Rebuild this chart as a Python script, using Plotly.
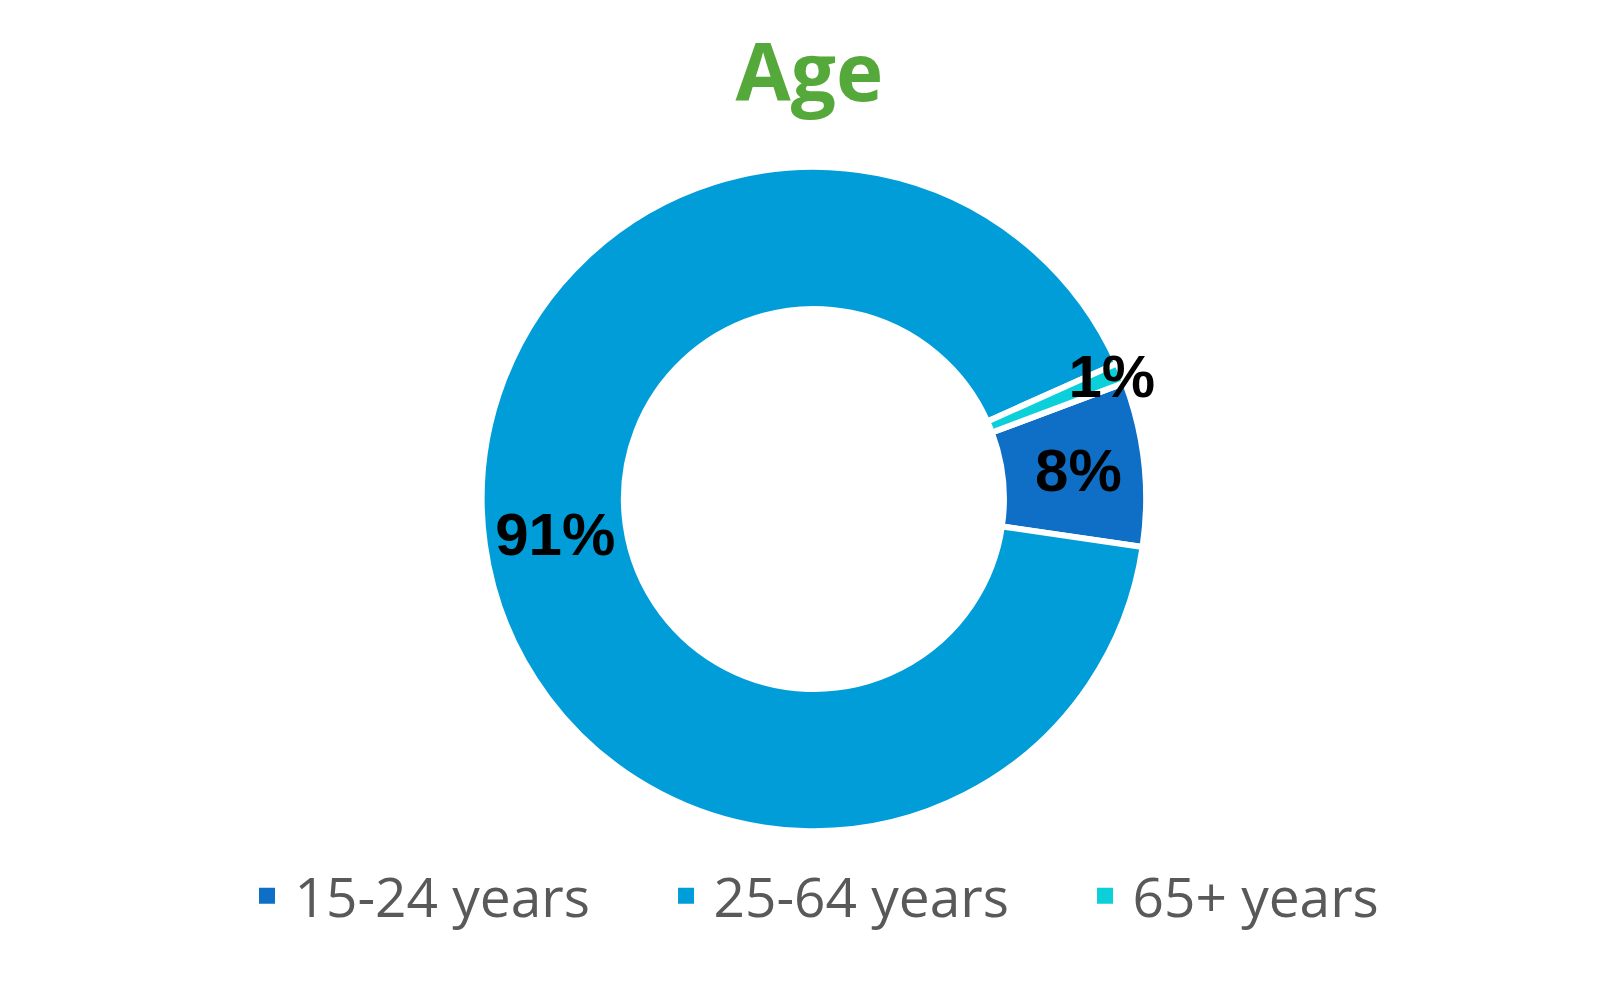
import plotly.graph_objects as go

age_groups = ["15-24 years", "25-64 years", "65+ years"]
shares = [8, 91, 1]
slice_colors = ["#0F6FC6", "#009DD9", "#0BD0D9"]

fig = go.Figure()

fig.add_trace(
    go.Pie(
        labels=age_groups,
        values=shares,
        hole=0.572,
        sort=False,
        direction="clockwise",
        rotation=69.5,
        marker=dict(colors=slice_colors, line=dict(color="white", width=6)),
        texttemplate="%{percent:.0%}",
        textposition="inside",
        insidetextorientation="horizontal",
        textfont=dict(family="Liberation Sans", size=60, color="black", weight="bold"),
        hoverinfo="label+percent",
        showlegend=False,
        domain=dict(x=[0.2948, 0.7088], y=[0.176, 0.841]),
    )
)

# legend entries with bigger square keys than the pie default
for name, color in zip(age_groups, slice_colors):
    fig.add_trace(
        go.Scatter(
            x=[None], y=[None],
            mode="markers",
            name=name,
            marker=dict(symbol="square", size=20, color=color),
            hoverinfo="skip",
        )
    )

fig.update_xaxes(visible=False)
fig.update_yaxes(visible=False)

fig.update_layout(
    width=1606,
    height=999,
    margin=dict(l=0, r=0, t=0, b=0),
    paper_bgcolor="white",
    plot_bgcolor="white",
    title=dict(
        text="<b>Age</b>",
        x=0.499, xanchor="center",
        y=0.935, yanchor="middle",
        font=dict(family="Open Sans", size=80, color="#55A83A"),
    ),
    uniformtext=dict(minsize=60, mode="show"),
    legend=dict(
        orientation="h",
        x=0.5355, xanchor="center",
        y=0.111, yanchor="middle",
        font=dict(family="Open Sans", size=55, color="#595959"),
        itemwidth=45,
        entrywidth=359,
    ),
)

fig.write_html("out.html")
